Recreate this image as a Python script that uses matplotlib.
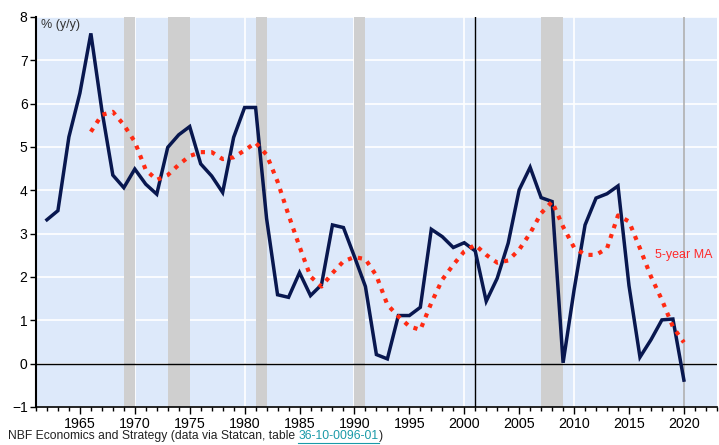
import matplotlib
matplotlib.use("Agg")
import matplotlib.pyplot as plt
from matplotlib.ticker import MultipleLocator

plt.rcParams['font.family'] = ['Liberation Sans', 'DejaVu Sans']

years = list(range(1962, 2021))
growth = [3.32, 3.53, 5.23, 6.24, 7.62, 5.85, 4.35, 4.06, 4.49, 4.14,
          3.91, 4.99, 5.28, 5.47, 4.61, 4.33, 3.95, 5.22, 5.91, 5.91,
          3.35, 1.59, 1.53, 2.10, 1.57, 1.82, 3.20, 3.14, 2.47, 1.78,
          0.21, 0.11, 1.11, 1.11, 1.30, 3.10, 2.93, 2.68, 2.79, 2.60,
          1.44, 1.97, 2.78, 4.01, 4.53, 3.83, 3.74, 0.02, 1.70, 3.20,
          3.82, 3.92, 4.10, 1.80, 0.15, 0.55, 1.01, 1.03, -0.38]

ma_years = list(range(1966, 2021))
ma5 = [5.35, 5.74, 5.81, 5.51, 5.12, 4.47, 4.24, 4.35, 4.59, 4.79,
       4.88, 4.88, 4.72, 4.76, 4.92, 5.10, 4.82, 4.20, 3.43, 2.70,
       2.01, 1.78, 2.09, 2.36, 2.46, 2.41, 2.03, 1.36, 1.09, 0.86,
       0.78, 1.40, 1.94, 2.28, 2.59, 2.74, 2.51, 2.33, 2.38, 2.63,
       3.01, 3.47, 3.74, 3.16, 2.68, 2.51, 2.51, 2.66, 3.42, 3.28,
       2.66, 2.01, 1.47, 0.85, 0.49]

recessions = [(1969, 1970), (1973, 1975), (1981, 1982), (1990, 1991), (2007, 2009)]
year_ticks = [1965, 1970, 1975, 1980, 1985, 1990, 1995, 2000, 2005, 2010, 2015, 2020]

fig = plt.figure(figsize=(7.19, 4.45), dpi=100)
ax = fig.add_axes([0.050, 0.0854, 0.947, 0.8766])
ax.set_facecolor('#dde9fa')

for a, b in recessions:
    ax.axvspan(a, b, color='#cfcfcf', lw=0, zorder=1)

ax.set_xlim(1961, 2023)
ax.set_ylim(-1, 8)
for y in range(-1, 9):
    ax.axhline(y, color='white', lw=1.2, zorder=0.5)
for x in [1970, 1980, 1990, 2000, 2010]:
    ax.axvline(x, color='white', lw=1.2, zorder=0.5)
ax.axvline(2020, color='#b0b0b0', lw=1.2, zorder=1.5)
ax.axvline(2001, color='black', lw=1.0, zorder=1.6)
ax.axhline(0, color='black', lw=1.0, zorder=1.6)

ax.plot(years, growth, color='#08174f', lw=2.5, zorder=3, solid_joinstyle='miter')
ax.plot(ma_years, ma5, color='#ff2a12', lw=3.0, ls=(0, (1, 1.5)), zorder=4)

ax.text(2017.4, 2.5, '5-year MA', color='#ff2a2a', fontsize=9, ha='left', va='center', zorder=5)
ax.text(1961.5, 7.95, '% (y/y)', color='#333333', fontsize=9, ha='left', va='top', zorder=5)

ax.set_xticks(year_ticks)
ax.xaxis.set_minor_locator(MultipleLocator(1))
ax.set_yticks(range(-1, 9))
ax.tick_params(axis='x', which='major', length=5, width=1, labelsize=10.3, pad=2)
ax.tick_params(axis='x', which='minor', length=3, width=1)
ax.tick_params(axis='y', which='major', length=4, width=1, labelsize=10, pad=2)
for s in ['top', 'right']:
    ax.spines[s].set_visible(False)
ax.spines['left'].set_linewidth(1.5)
ax.spines['bottom'].set_linewidth(1.2)

cap_y = 0.007
cap_fs = 8.7
t = fig.text(0.011, cap_y, 'NBF Economics and Strategy (data via Statcan, table ', fontsize=cap_fs,
             color='#222222', ha='left', va='bottom')
fig.canvas.draw()
bb = t.get_window_extent()
x1 = bb.x1 / fig.bbox.width
t2 = fig.text(x1, cap_y, '36-10-0096-01', fontsize=cap_fs, color='#1a9aa8', ha='left', va='bottom')
fig.canvas.draw()
bb2 = t2.get_window_extent()
x2 = bb2.x1 / fig.bbox.width
fig.text(x2, cap_y, ')', fontsize=cap_fs, color='#222222', ha='left', va='bottom')
fig.lines.append(plt.Line2D([x1, x2], [cap_y - 0.003, cap_y - 0.003], transform=fig.transFigure,
                            color='#1a9aa8', lw=0.8))

fig.savefig('out.png', dpi=100)
